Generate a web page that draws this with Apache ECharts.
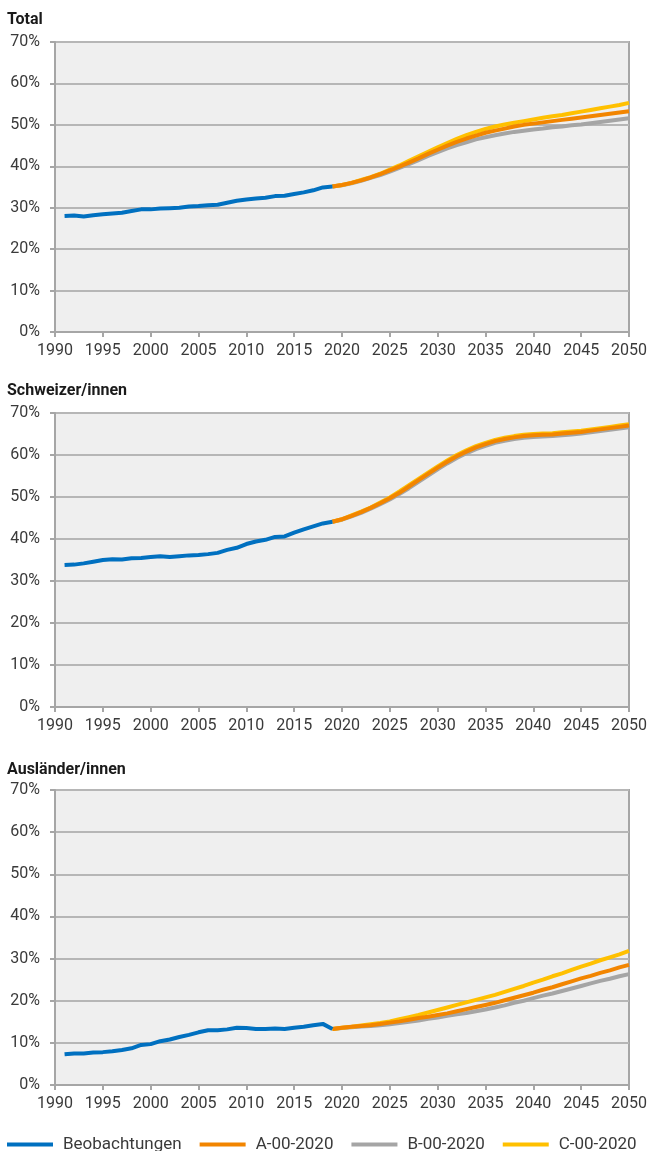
<!DOCTYPE html>
<html>
<head>
<meta charset="utf-8">
<script src="https://cdn.jsdelivr.net/npm/echarts@6/dist/echarts.min.js"></script>
<style>
  html, body { margin: 0; padding: 0; background: #ffffff; }
  #chart { width: 650px; height: 1151px; }
</style>
</head>
<body>
<div id="chart"></div>
<script>
// Years
const obsYears = [1991,1992,1993,1994,1995,1996,1997,1998,1999,2000,2001,2002,2003,2004,2005,2006,2007,2008,2009,2010,2011,2012,2013,2014,2015,2016,2017,2018,2019];
const projYears = [2019,2020,2021,2022,2023,2024,2025,2026,2027,2028,2029,2030,2031,2032,2033,2034,2035,2036,2037,2038,2039,2040,2041,2042,2043,2044,2045,2046,2047,2048,2049,2050];

// Panel titles and series names
const panelTitles = ['Total', 'Schweizer/innen', 'Ausländer/innen'];
const seriesNames = ['Beobachtungen', 'A-00-2020', 'B-00-2020', 'C-00-2020'];

// Total (%)
const totalObs = [28.0,28.1,27.9,28.2,28.4,28.6,28.8,29.2,29.6,29.6,29.8,29.9,30.0,30.3,30.4,30.6,30.7,31.2,31.7,32.0,32.2,32.4,32.8,32.9,33.3,33.7,34.2,34.9,35.1];
const totalA = [35.1,35.5,36.0,36.6,37.3,38.1,39.0,39.9,40.9,41.9,43.0,44.0,45.0,45.9,46.7,47.4,48.1,48.6,49.1,49.6,50.0,50.3,50.6,50.9,51.2,51.5,51.8,52.1,52.4,52.7,53.0,53.3];
const totalB = [35.1,35.4,35.9,36.5,37.2,37.9,38.7,39.6,40.5,41.5,42.5,43.4,44.3,45.1,45.8,46.5,47.0,47.5,47.9,48.3,48.6,48.9,49.1,49.4,49.6,49.9,50.1,50.4,50.7,51.0,51.3,51.6];
const totalC = [35.1,35.5,36.0,36.7,37.4,38.2,39.2,40.2,41.3,42.4,43.5,44.6,45.6,46.6,47.5,48.3,49.0,49.6,50.1,50.5,50.9,51.3,51.7,52.1,52.4,52.8,53.2,53.6,54.0,54.4,54.8,55.3];

// Schweizer/innen (%)
const chObs = [33.8,33.9,34.2,34.6,35.0,35.2,35.1,35.4,35.5,35.7,35.9,35.7,35.9,36.1,36.2,36.4,36.7,37.4,37.9,38.8,39.4,39.8,40.5,40.6,41.5,42.3,43.0,43.7,44.1];
const chA = [44.1,44.7,45.5,46.4,47.4,48.5,49.7,51.0,52.5,54.0,55.5,57.0,58.4,59.7,60.8,61.8,62.6,63.3,63.8,64.2,64.5,64.7,64.8,64.9,65.1,65.3,65.5,65.8,66.1,66.4,66.7,67.0];
const chB = [44.1,44.6,45.4,46.2,47.2,48.3,49.4,50.7,52.1,53.6,55.1,56.6,58.0,59.3,60.4,61.4,62.2,62.9,63.4,63.8,64.1,64.3,64.4,64.5,64.7,64.9,65.1,65.4,65.7,66.0,66.3,66.6];
const chC = [44.1,44.7,45.6,46.5,47.5,48.7,49.9,51.3,52.8,54.3,55.8,57.3,58.7,60.0,61.1,62.1,62.9,63.6,64.1,64.5,64.8,65.0,65.1,65.2,65.4,65.6,65.8,66.1,66.4,66.7,67.0,67.3];

// Ausländer/innen (%)
const auObs = [7.3,7.5,7.5,7.7,7.8,8.0,8.3,8.7,9.5,9.7,10.4,10.8,11.4,11.9,12.5,13.0,13.0,13.2,13.6,13.5,13.3,13.3,13.4,13.3,13.6,13.8,14.2,14.5,13.3];
const auA = [13.3,13.6,13.8,14.0,14.2,14.5,14.8,15.1,15.5,15.9,16.2,16.6,17.0,17.5,18.0,18.5,19.0,19.5,20.1,20.7,21.3,21.9,22.6,23.2,23.9,24.6,25.3,25.9,26.6,27.2,27.9,28.5];
const auB = [13.3,13.5,13.7,13.9,14.0,14.2,14.4,14.7,15.0,15.3,15.7,16.0,16.4,16.8,17.1,17.5,17.9,18.4,18.9,19.5,20.0,20.6,21.2,21.7,22.3,22.9,23.5,24.1,24.7,25.2,25.8,26.3];
const auC = [13.3,13.6,13.8,14.1,14.4,14.7,15.1,15.6,16.1,16.6,17.2,17.8,18.4,19.0,19.6,20.2,20.8,21.4,22.1,22.8,23.5,24.3,25.0,25.8,26.5,27.3,28.1,28.8,29.6,30.3,31.0,31.8];

const panels = [
  { obs: totalObs, A: totalA, B: totalB, C: totalC },
  { obs: chObs, A: chA, B: chB, C: chC },
  { obs: auObs, A: auA, B: auB, C: auC }
];

const COLORS = {
  'Beobachtungen': '#0070c0',
  'A-00-2020': '#f28500',
  'B-00-2020': '#a5a5a5',
  'C-00-2020': '#ffc000'
};

const FONT = 'Roboto, "Liberation Sans", sans-serif';
const gridBoxes = [
  { top: 42, height: 290 },
  { top: 413, height: 294 },
  { top: 790, height: 295 }
];
const titleTops = [12, 383, 762];

function pairs(years, vals) {
  return years.map((y, i) => [y, vals[i]]);
}

const grid = [], xAxis = [], yAxis = [], series = [], title = [];

gridBoxes.forEach((g, i) => {
  grid.push({
    left: 55, right: 21, top: g.top, height: g.height,
    show: true, backgroundColor: '#efefef',
    borderColor: '#a6a6a6', borderWidth: 2
  });
  xAxis.push({
    type: 'value', gridIndex: i, min: 1990, max: 2050, interval: 5,
    axisLine: { show: true, onZero: false, lineStyle: { color: '#a6a6a6', width: 2 } },
    axisTick: { show: true, length: 5, lineStyle: { color: '#a6a6a6', width: 2 } },
    axisLabel: { color: '#3a3a3a', fontSize: 16, fontFamily: FONT, margin: 11,
                 formatter: v => String(v) },
    splitLine: { show: false }
  });
  yAxis.push({
    type: 'value', gridIndex: i, min: 0, max: 70, interval: 10,
    axisLine: { show: true, lineStyle: { color: '#a6a6a6', width: 2 } },
    axisTick: { show: true, length: 5, lineStyle: { color: '#a6a6a6', width: 2 } },
    axisLabel: { color: '#3a3a3a', fontSize: 16, fontFamily: FONT, margin: 15, formatter: '{value}%' },
    splitLine: { show: true, lineStyle: { color: '#b6b6b6', width: 2 } }
  });
  title.push({
    text: panelTitles[i], left: 7, top: titleTops[i], padding: 0,
    textStyle: { fontFamily: FONT, fontSize: 16, fontWeight: 'bold', color: '#1a1a1a' }
  });

  const p = panels[i];
  // Drawing order: B below, then C, then A, observations on top
  const list = [
    ['B-00-2020', projYears, p.B],
    ['C-00-2020', projYears, p.C],
    ['A-00-2020', projYears, p.A],
    ['Beobachtungen', obsYears, p.obs]
  ];
  list.forEach(([name, yrs, vals]) => {
    series.push({
      name, type: 'line', xAxisIndex: i, yAxisIndex: i,
      data: pairs(yrs, vals),
      showSymbol: false, symbol: 'none',
      lineStyle: { color: COLORS[name], width: 4, cap: 'butt', join: 'round' },
      itemStyle: { color: COLORS[name] },
      animation: false
    });
  });
});

const chart = echarts.init(document.getElementById('chart'), null, { renderer: 'canvas' });
chart.setOption({
  animation: false,
  backgroundColor: '#ffffff',
  title,
  legend: {
    data: seriesNames, left: 7, top: 1136, padding: 0,
    icon: 'rect', itemWidth: 46, itemHeight: 4, itemGap: 18,
    textStyle: { fontFamily: FONT, fontSize: 17, color: '#3a3a3a', padding: [0, 0, 0, 5] }
  },
  grid, xAxis, yAxis, series
});
</script>
</body>
</html>
